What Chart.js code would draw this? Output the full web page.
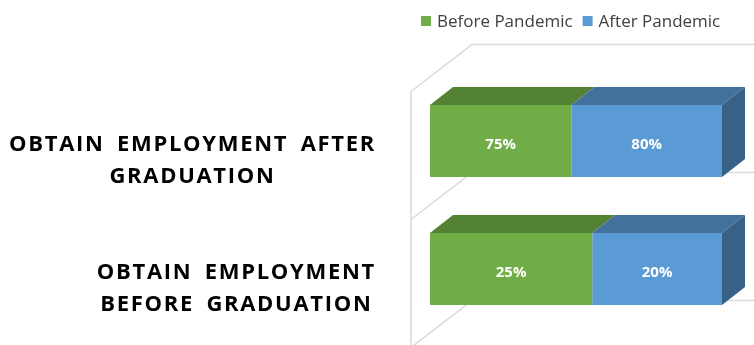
<!DOCTYPE html>
<html>
<head>
<meta charset="utf-8">
<script src="https://cdn.jsdelivr.net/npm/chart.js@4.4.1/dist/chart.umd.min.js"></script>
<style>
  html, body { margin: 0; padding: 0; background: #fff; }
  #wrap { width: 754px; height: 345px; }
</style>
</head>
<body>
<div id="wrap"><canvas id="chart"></canvas></div>
<script>
// categories and series (100% stacked, labels keep the raw values)
const categories = [
    ['OBTAIN EMPLOYMENT AFTER', 'GRADUATION'],
    ['OBTAIN EMPLOYMENT', 'BEFORE GRADUATION']
];
const seriesNames    = ['Before Pandemic', 'After Pandemic'];
const beforePandemic = [75, 25];
const afterPandemic  = [80, 20];

const totals = beforePandemic.map((v, i) => v + afterPandemic[i]);
const share  = arr => arr.map((v, i) => v / totals[i] * 100);

const frontColors = ['#70AD47', '#5B9BD5'];
const topColors   = ['#548235', '#41719C'];
const sideColors  = ['#4B7530', '#386187'];

// projection offsets for the fake 3D box
const BAR_DEPTH  = { dx: 23, dy: -18 };
const WALL_FRONT = { dx: -19, dy: 14.5 };
const WALL_BACK  = { dx: 42, dy: -32.5 };

const FONT = '"Open Sans", "DejaVu Sans", sans-serif';

// legend drawn by hand so it can run wider than the plot area
const legend3d = {
    id: 'legend3d',
    afterDraw(chart) {
        const ctx = chart.ctx;
        let x = chart.chartArea.left - 9;
        const cy = 21;
        ctx.save();
        ctx.font = '17px ' + FONT;
        ctx.textBaseline = 'alphabetic';
        seriesNames.forEach((name, i) => {
            ctx.fillStyle = frontColors[i];
            ctx.fillRect(x, cy - 5, 10, 10);
            x += 16;
            ctx.fillStyle = '#404040';
            ctx.fillText(name, x, cy + 6);
            x += ctx.measureText(name).width + 10;
        });
        ctx.restore();
    }
};

const walls3d = {
    id: 'walls3d',
    beforeDatasetsDraw(chart) {
        const ctx = chart.ctx;
        const ca  = chart.chartArea;
        const x0  = chart.scales.x.getPixelForValue(0);
        const n   = categories.length;
        const band = (ca.bottom - ca.top) / n;

        ctx.save();
        ctx.strokeStyle = '#D9D9D9';
        ctx.lineWidth = 1.5;

        ctx.beginPath();
        ctx.moveTo(x0 + WALL_FRONT.dx, ca.top + WALL_FRONT.dy);
        ctx.lineTo(x0 + WALL_FRONT.dx, chart.height + 5);
        ctx.stroke();

        for (let k = 0; k <= n; k++) {
            const b = ca.top + k * band;
            ctx.beginPath();
            ctx.moveTo(x0 + WALL_FRONT.dx, b + WALL_FRONT.dy);
            ctx.lineTo(x0 + WALL_BACK.dx, b + WALL_BACK.dy);
            ctx.lineTo(chart.width + 5, b + WALL_BACK.dy);
            ctx.stroke();
        }
        ctx.restore();
    },
    afterDatasetsDraw(chart) {
        const ctx = chart.ctx;
        const last = chart.data.datasets.length - 1;
        ctx.save();

        chart.data.datasets.forEach((ds, di) => {
            const meta = chart.getDatasetMeta(di);
            meta.data.forEach(el => {
                const p = el.getProps(['x', 'y', 'base', 'height'], true);
                const left = Math.min(p.base, p.x);
                const right = Math.max(p.base, p.x);
                const top = p.y - p.height / 2;
                const bottom = p.y + p.height / 2;

                ctx.fillStyle = topColors[di];
                ctx.beginPath();
                ctx.moveTo(left, top);
                ctx.lineTo(right, top);
                ctx.lineTo(right + BAR_DEPTH.dx, top + BAR_DEPTH.dy);
                ctx.lineTo(left + BAR_DEPTH.dx, top + BAR_DEPTH.dy);
                ctx.closePath();
                ctx.fill();

                if (di === last) {
                    ctx.fillStyle = sideColors[di];
                    ctx.beginPath();
                    ctx.moveTo(right, top);
                    ctx.lineTo(right + BAR_DEPTH.dx, top + BAR_DEPTH.dy);
                    ctx.lineTo(right + BAR_DEPTH.dx, bottom + BAR_DEPTH.dy);
                    ctx.lineTo(right, bottom);
                    ctx.closePath();
                    ctx.fill();
                }
            });
        });

        // value labels on the front faces
        ctx.fillStyle = '#FFFFFF';
        ctx.font = 'bold 15px ' + FONT;
        ctx.textAlign = 'center';
        ctx.textBaseline = 'alphabetic';
        chart.data.datasets.forEach((ds, di) => {
            const meta = chart.getDatasetMeta(di);
            meta.data.forEach((el, i) => {
                const p = el.getProps(['x', 'y', 'base'], true);
                ctx.fillText(ds.rawValues[i] + '%', (p.x + p.base) / 2, p.y + 8);
            });
        });

        // category labels, centred on the front band of the left wall
        const ys = chart.scales.y;
        ctx.fillStyle = '#000000';
        ctx.font = 'bold 22px ' + FONT;
        ctx.letterSpacing = '1.7px';
        ctx.wordSpacing = '5px';
        const rightEdge = 376;
        const lineGap = 32;
        categories.forEach((lines, i) => {
            const cy = ys.getPixelForValue(i) + WALL_FRONT.dy + 3;
            const maxW = Math.max(...lines.map(t => ctx.measureText(t).width));
            const cx = rightEdge - maxW / 2;
            lines.forEach((t, j) => {
                const ly = cy + (j - (lines.length - 1) / 2) * lineGap;
                ctx.fillText(t, cx, ly + 8);
            });
        });
        ctx.restore();
    }
};

new Chart(document.getElementById('chart'), {
    type: 'bar',
    data: {
        labels: categories,
        datasets: [
            {
                label: seriesNames[0],
                data: share(beforePandemic),
                rawValues: beforePandemic,
                backgroundColor: frontColors[0]
            },
            {
                label: seriesNames[1],
                data: share(afterPandemic),
                rawValues: afterPandemic,
                backgroundColor: frontColors[1]
            }
        ]
    },
    options: {
        indexAxis: 'y',
        responsive: true,
        maintainAspectRatio: false,
        animation: false,
        barPercentage: 0.5625,
        categoryPercentage: 1,
        layout: {
            padding: { left: 430, right: 32, top: 77, bottom: 12 }
        },
        scales: {
            x: { display: false, stacked: true, min: 0, max: 100 },
            y: { display: false, stacked: true }
        },
        plugins: {
            legend: { display: false },
            tooltip: { enabled: false }
        }
    },
    plugins: [walls3d, legend3d]
});
</script>
</body>
</html>
